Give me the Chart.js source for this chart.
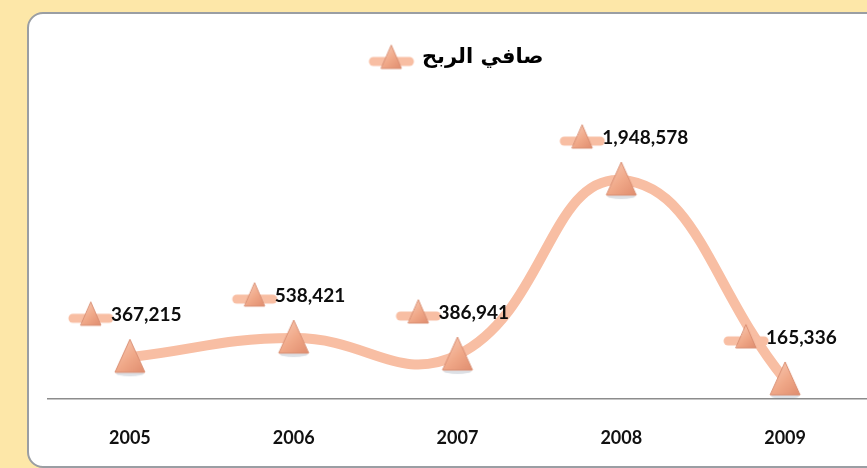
<!DOCTYPE html>
<html>
<head>
<meta charset="utf-8">
<script src="https://cdn.jsdelivr.net/npm/chart.js@4.4.1/dist/chart.umd.min.js"></script>
<style>
  html, body { margin: 0; padding: 0; }
  body { width: 867px; height: 468px; background: #fde7a8; position: relative; overflow: hidden; }
  .panel {
    position: absolute; left: 27px; top: 12px; width: 900px; height: 452px;
    background: #fff; border: 2px solid #9a9ea3; border-radius: 16px;
  }
  #wrap { position: absolute; left: 0; top: 0; width: 867px; height: 468px; }
</style>
</head>
<body>
<div class="panel"></div>
<div id="wrap"><canvas id="myChart" width="867" height="468"></canvas></div>
<script>
const years = ['2005', '2006', '2007', '2008', '2009']
const netProfit = [367215, 538421, 386941, 1948578, 165336]
const seriesName = 'صافي الربح'

const lineColor = '#f8bea3'

// triangle marker with a soft gradient, like the office style marker
function drawTri (ctx, cx, top, w, h) {
  const g = ctx.createLinearGradient(cx - w / 2, top, cx + w / 2, top + h)
  g.addColorStop(0, '#f9cdb8')
  g.addColorStop(0.55, '#f0a888')
  g.addColorStop(1, '#e08d6f')
  ctx.beginPath()
  ctx.moveTo(cx, top)
  ctx.lineTo(cx + w / 2, top + h)
  ctx.lineTo(cx - w / 2, top + h)
  ctx.closePath()
  ctx.fillStyle = g
  ctx.fill()
  ctx.lineWidth = 1
  ctx.strokeStyle = '#d98e72'
  ctx.stroke()
}

function makeBigTri () {
  const c = document.createElement('canvas')
  c.width = 34; c.height = 40
  const ctx = c.getContext('2d')
  ctx.fillStyle = 'rgba(120,130,150,0.25)'
  ctx.beginPath()
  ctx.ellipse(17, 36, 14, 3, 0, 0, Math.PI * 2)
  ctx.fill()
  drawTri(ctx, 17, 2, 30, 33)
  return c
}

function makeIcon () {
  const c = document.createElement('canvas')
  c.width = 48; c.height = 28
  const ctx = c.getContext('2d')
  ctx.strokeStyle = lineColor
  ctx.lineWidth = 9
  ctx.lineCap = 'round'
  ctx.beginPath()
  ctx.moveTo(6, 18)
  ctx.lineTo(42, 18)
  ctx.stroke()
  drawTri(ctx, 24, 2, 20, 23)
  return c
}

const bigTri = makeBigTri()
const icon = makeIcon()

const valueLabels = {
  id: 'valueLabels',
  afterDatasetsDraw (chart) {
    const ctx = chart.ctx
    const meta = chart.getDatasetMeta(0)
    ctx.save()
    ctx.font = 'bold 19px Lato'
    ctx.fillStyle = '#0d0d0d'
    ctx.textBaseline = 'middle'
    ctx.textAlign = 'left'
    meta.data.forEach((pt, i) => {
      const lx = pt.x - 39
      const ly = pt.y - 43
      ctx.drawImage(icon, lx - 24, ly - 14)
      ctx.fillText(netProfit[i].toLocaleString('en-US'), pt.x - 19, ly + 1)
    })
    ctx.restore()
  }
}

const ctx = document.getElementById('myChart')
const myChart = new Chart(ctx, {
  type: 'line',
  data: {
    labels: years,
    datasets: [{
      label: seriesName,
      data: netProfit,
      borderColor: lineColor,
      borderWidth: 10,
      tension: 0.45,
      pointStyle: bigTri,
      pointRadius: 16,
      clip: false
    }]
  },
  options: {
    responsive: false,
    animation: false,
    layout: { autoPadding: false, padding: { left: 48, right: 0, top: 37, bottom: -10 } },
    plugins: {
      legend: {
        display: true,
        position: 'top',
        labels: {
          usePointStyle: true,
          pointStyle: icon,
          pointStyleWidth: 40,
          color: '#000',
          font: { family: 'DejaVu Sans', size: 21, weight: 'bold' },
          padding: 10,
          generateLabels: (chart) => [{
            text: seriesName,
            pointStyle: icon,
            fillStyle: lineColor,
            strokeStyle: lineColor,
            lineWidth: 0,
            datasetIndex: 0
          }]
        }
      },
      tooltip: { enabled: false }
    },
    scales: {
      x: {
        offset: true,
        grid: { display: false, drawTicks: false },
        border: { display: true, color: '#8c8c8c', width: 1.5 },
        ticks: {
          color: '#111',
          padding: 29,
          font: { family: 'Lato', size: 18, weight: 'bold' }
        }
      },
      y: {
        display: false,
        min: 0,
        max: 2860000
      }
    }
  },
  plugins: [valueLabels]
})
</script>
</body>
</html>
